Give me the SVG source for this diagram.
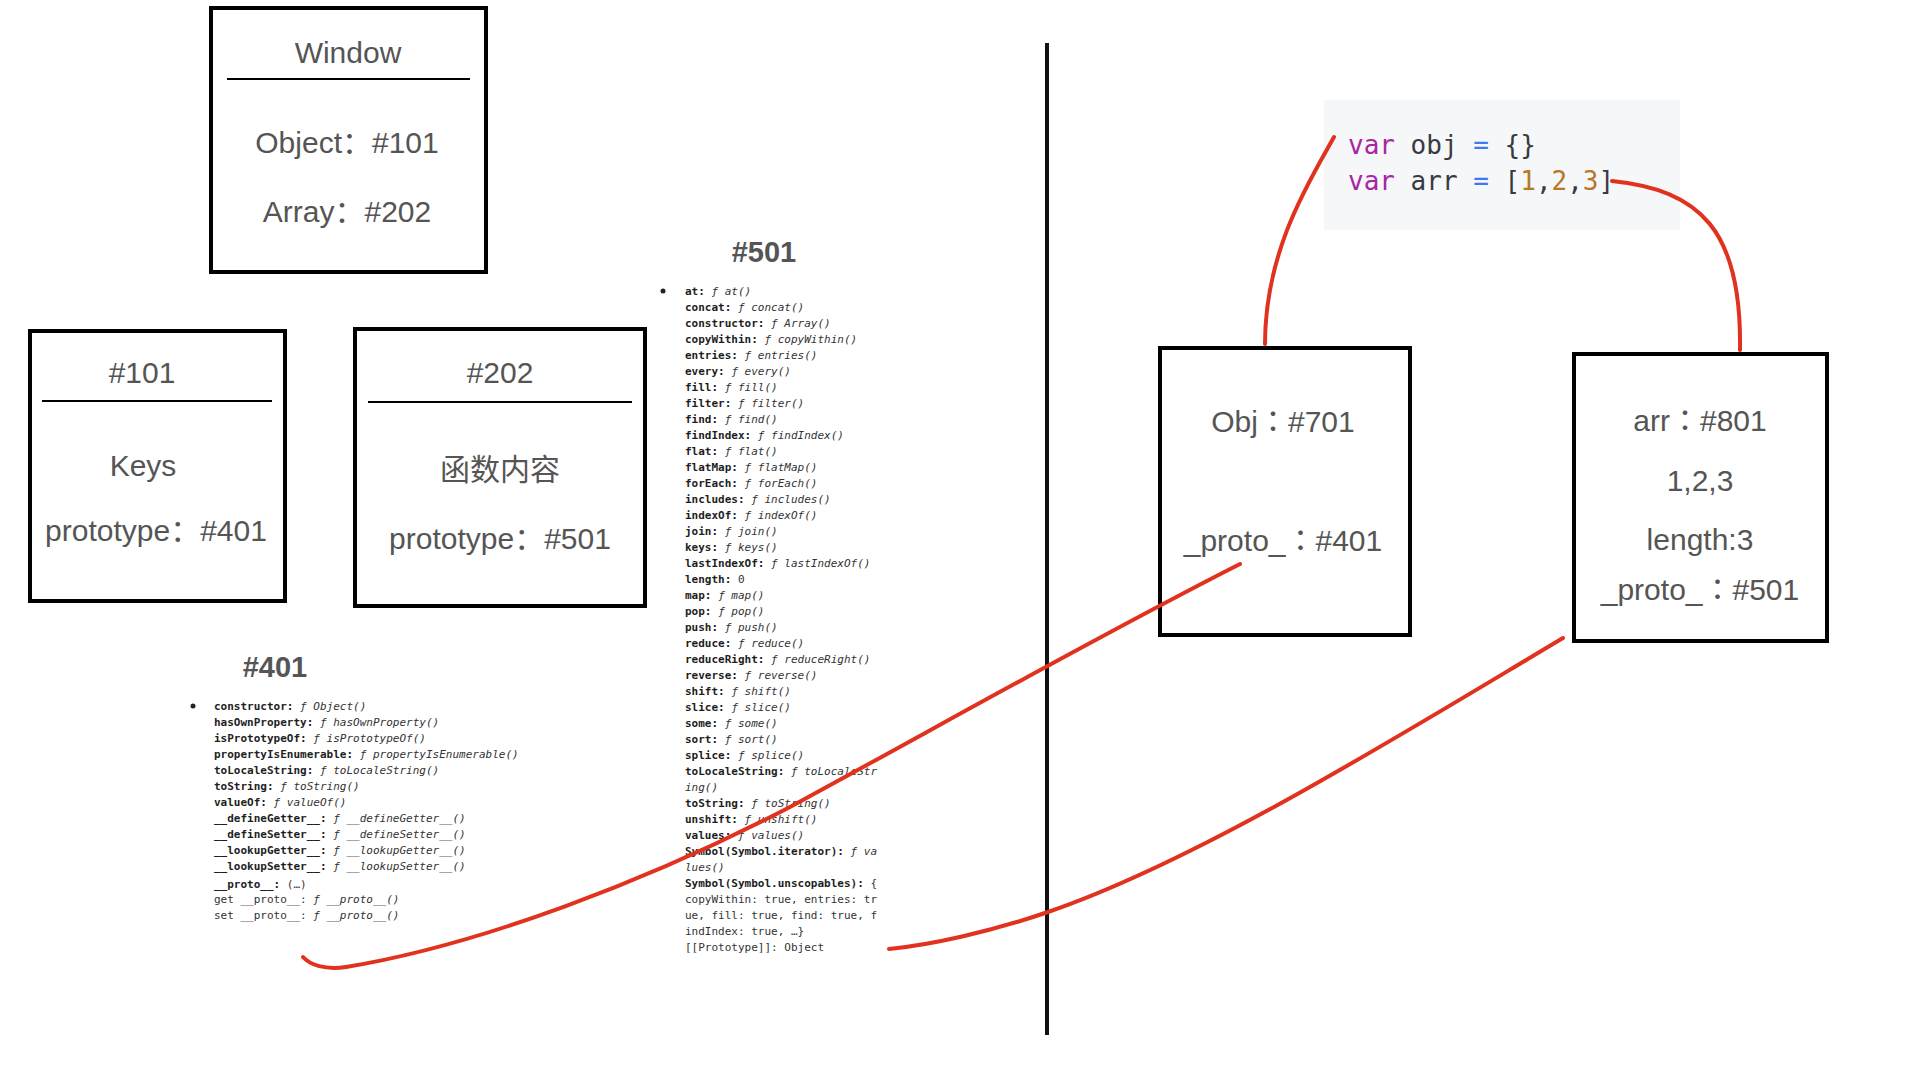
<svg xmlns="http://www.w3.org/2000/svg" width="1920" height="1080" viewBox="0 0 1920 1080" xml:space="preserve">
<style>
.box{fill:#fff;stroke:#000;stroke-width:4}
.sep{stroke:#000;stroke-width:2}
.lbl{font-family:"Liberation Sans","Noto Sans CJK SC",sans-serif;font-size:30px;fill:#555;text-anchor:middle}
.lblt{font-family:"Liberation Sans","Noto Sans CJK TC",sans-serif;font-size:30px;fill:#555;text-anchor:middle}
.ttl{font-family:"Liberation Sans",sans-serif;font-size:29px;font-weight:bold;fill:#555;text-anchor:middle}
.mono{font-family:"DejaVu Sans Mono","Liberation Mono",monospace;font-size:11px;fill:#333}
.k{font-weight:bold;fill:#1e1e1e}
.v{font-style:italic;fill:#333}
.code{font-family:"DejaVu Sans Mono","Liberation Mono",monospace;font-size:26px;fill:#383a42}
.kw{fill:#a626a4}
.op{fill:#4078f2}
.num{fill:#b8762a}
.red{fill:none;stroke:#e0321e;stroke-width:4;stroke-linecap:round;stroke-linejoin:round}
</style>

<g id="window">
<rect class="box" x="211" y="8" width="275" height="264"/>
<line class="sep" x1="227" y1="79" x2="470" y2="79"/>
<text class="lbl" x="348" y="63">Window</text>
<text class="lbl" x="347" y="153">Object：#101</text>
<text class="lbl" x="347" y="222">Array：#202</text>
</g>

<g id="node-101">
<rect class="box" x="30" y="331" width="255" height="270"/>
<line class="sep" x1="42" y1="401" x2="272" y2="401"/>
<text class="lbl" x="142" y="383">#101</text>
<text class="lbl" x="143" y="476">Keys</text>
<text class="lbl" x="156" y="541">prototype：#401</text>
</g>

<g id="node-202">
<rect class="box" x="355" y="329" width="290" height="277"/>
<line class="sep" x1="368" y1="402" x2="632" y2="402"/>
<text class="lbl" x="500" y="383">#202</text>
<text class="lbl" x="500" y="480">函数内容</text>
<text class="lbl" x="500" y="549">prototype：#501</text>
</g>

<g id="proto-401">
<text class="ttl" x="275" y="677">#401</text>
<circle cx="193" cy="706" r="2.5" fill="#222"/>
<g class="mono" transform="translate(214,0)">
<text y="710"><tspan class="k">constructor:</tspan> <tspan class="v">ƒ Object()</tspan></text>
<text y="726"><tspan class="k">hasOwnProperty:</tspan> <tspan class="v">ƒ hasOwnProperty()</tspan></text>
<text y="742"><tspan class="k">isPrototypeOf:</tspan> <tspan class="v">ƒ isPrototypeOf()</tspan></text>
<text y="758"><tspan class="k">propertyIsEnumerable:</tspan> <tspan class="v">ƒ propertyIsEnumerable()</tspan></text>
<text y="774"><tspan class="k">toLocaleString:</tspan> <tspan class="v">ƒ toLocaleString()</tspan></text>
<text y="790"><tspan class="k">toString:</tspan> <tspan class="v">ƒ toString()</tspan></text>
<text y="806"><tspan class="k">valueOf:</tspan> <tspan class="v">ƒ valueOf()</tspan></text>
<text y="822"><tspan class="k">__defineGetter__:</tspan> <tspan class="v">ƒ __defineGetter__()</tspan></text>
<text y="838"><tspan class="k">__defineSetter__:</tspan> <tspan class="v">ƒ __defineSetter__()</tspan></text>
<text y="854"><tspan class="k">__lookupGetter__:</tspan> <tspan class="v">ƒ __lookupGetter__()</tspan></text>
<text y="870"><tspan class="k">__lookupSetter__:</tspan> <tspan class="v">ƒ __lookupSetter__()</tspan></text>
<text y="888"><tspan class="k">__proto__:</tspan>  (…)</text>
<text y="903">get __proto__: <tspan class="v">ƒ __proto__()</tspan></text>
<text y="919">set __proto__: <tspan class="v">ƒ __proto__()</tspan></text>
</g>
</g>

<g id="proto-501">
<text class="ttl" x="764" y="262">#501</text>
<circle cx="663" cy="291" r="2.5" fill="#222"/>
<g class="mono" transform="translate(685,0)">
<text y="295"><tspan class="k">at:</tspan> <tspan class="v">ƒ at()</tspan></text>
<text y="311"><tspan class="k">concat:</tspan> <tspan class="v">ƒ concat()</tspan></text>
<text y="327"><tspan class="k">constructor:</tspan> <tspan class="v">ƒ Array()</tspan></text>
<text y="343"><tspan class="k">copyWithin:</tspan> <tspan class="v">ƒ copyWithin()</tspan></text>
<text y="359"><tspan class="k">entries:</tspan> <tspan class="v">ƒ entries()</tspan></text>
<text y="375"><tspan class="k">every:</tspan> <tspan class="v">ƒ every()</tspan></text>
<text y="391"><tspan class="k">fill:</tspan> <tspan class="v">ƒ fill()</tspan></text>
<text y="407"><tspan class="k">filter:</tspan> <tspan class="v">ƒ filter()</tspan></text>
<text y="423"><tspan class="k">find:</tspan> <tspan class="v">ƒ find()</tspan></text>
<text y="439"><tspan class="k">findIndex:</tspan> <tspan class="v">ƒ findIndex()</tspan></text>
<text y="455"><tspan class="k">flat:</tspan> <tspan class="v">ƒ flat()</tspan></text>
<text y="471"><tspan class="k">flatMap:</tspan> <tspan class="v">ƒ flatMap()</tspan></text>
<text y="487"><tspan class="k">forEach:</tspan> <tspan class="v">ƒ forEach()</tspan></text>
<text y="503"><tspan class="k">includes:</tspan> <tspan class="v">ƒ includes()</tspan></text>
<text y="519"><tspan class="k">indexOf:</tspan> <tspan class="v">ƒ indexOf()</tspan></text>
<text y="535"><tspan class="k">join:</tspan> <tspan class="v">ƒ join()</tspan></text>
<text y="551"><tspan class="k">keys:</tspan> <tspan class="v">ƒ keys()</tspan></text>
<text y="567"><tspan class="k">lastIndexOf:</tspan> <tspan class="v">ƒ lastIndexOf()</tspan></text>
<text y="583"><tspan class="k">length:</tspan> 0</text>
<text y="599"><tspan class="k">map:</tspan> <tspan class="v">ƒ map()</tspan></text>
<text y="615"><tspan class="k">pop:</tspan> <tspan class="v">ƒ pop()</tspan></text>
<text y="631"><tspan class="k">push:</tspan> <tspan class="v">ƒ push()</tspan></text>
<text y="647"><tspan class="k">reduce:</tspan> <tspan class="v">ƒ reduce()</tspan></text>
<text y="663"><tspan class="k">reduceRight:</tspan> <tspan class="v">ƒ reduceRight()</tspan></text>
<text y="679"><tspan class="k">reverse:</tspan> <tspan class="v">ƒ reverse()</tspan></text>
<text y="695"><tspan class="k">shift:</tspan> <tspan class="v">ƒ shift()</tspan></text>
<text y="711"><tspan class="k">slice:</tspan> <tspan class="v">ƒ slice()</tspan></text>
<text y="727"><tspan class="k">some:</tspan> <tspan class="v">ƒ some()</tspan></text>
<text y="743"><tspan class="k">sort:</tspan> <tspan class="v">ƒ sort()</tspan></text>
<text y="759"><tspan class="k">splice:</tspan> <tspan class="v">ƒ splice()</tspan></text>
<text y="775"><tspan class="k">toLocaleString:</tspan> <tspan class="v">ƒ toLocaleStr</tspan></text>
<text y="791"><tspan class="v">ing()</tspan></text>
<text y="807"><tspan class="k">toString:</tspan> <tspan class="v">ƒ toString()</tspan></text>
<text y="823"><tspan class="k">unshift:</tspan> <tspan class="v">ƒ unshift()</tspan></text>
<text y="839"><tspan class="k">values:</tspan> <tspan class="v">ƒ values()</tspan></text>
<text y="855"><tspan class="k">Symbol(Symbol.iterator):</tspan> <tspan class="v">ƒ va</tspan></text>
<text y="871"><tspan class="v">lues()</tspan></text>
<text y="887"><tspan class="k">Symbol(Symbol.unscopables):</tspan> {</text>
<text y="903">copyWithin: true, entries: tr</text>
<text y="919">ue, fill: true, find: true, f</text>
<text y="935">indIndex: true, …}</text>
<text y="951">[[Prototype]]: Object</text>
</g>
</g>

<g id="code">
<rect x="1324" y="100" width="356" height="130" fill="#f6f7f9"/>
<text class="code" x="1348" y="154"><tspan class="kw">var</tspan> obj <tspan class="op">=</tspan> {}</text>
<text class="code" x="1348" y="190"><tspan class="kw">var</tspan> arr <tspan class="op">=</tspan> [<tspan class="num">1</tspan>,<tspan class="num">2</tspan>,<tspan class="num">3</tspan>]</text>
</g>

<g id="obj-701">
<rect class="box" x="1160" y="348" width="250" height="287"/>
<text class="lblt" x="1283" y="432">Obj：#701</text>
<text class="lblt" x="1283" y="551">_proto_：#401</text>
</g>

<g id="arr-801">
<rect class="box" x="1574" y="354" width="253" height="287"/>
<text class="lblt" x="1700" y="431">arr：#801</text>
<text class="lbl" x="1700" y="491">1,2,3</text>
<text class="lbl" x="1700" y="550">length:3</text>
<text class="lblt" x="1700" y="600">_proto_：#501</text>
</g>

<g id="connectors">
<line x1="1047" y1="43" x2="1047" y2="1035" stroke="#111" stroke-width="4"/>
<path class="red" d="M1334,137 C1310,180 1265,250 1265,344"/>
<path class="red" d="M1612,181 C1700,190 1742,230 1740,350"/>
<path class="red" d="M1240,564 C1100,635 950,720 790,807 C650,880 480,945 346,967 C325,970 310,965 303,957"/>
<path class="red" d="M1563,638 C1400,735 1200,860 1048,912 C990,932 930,945 889,949"/>
</g>
</svg>
